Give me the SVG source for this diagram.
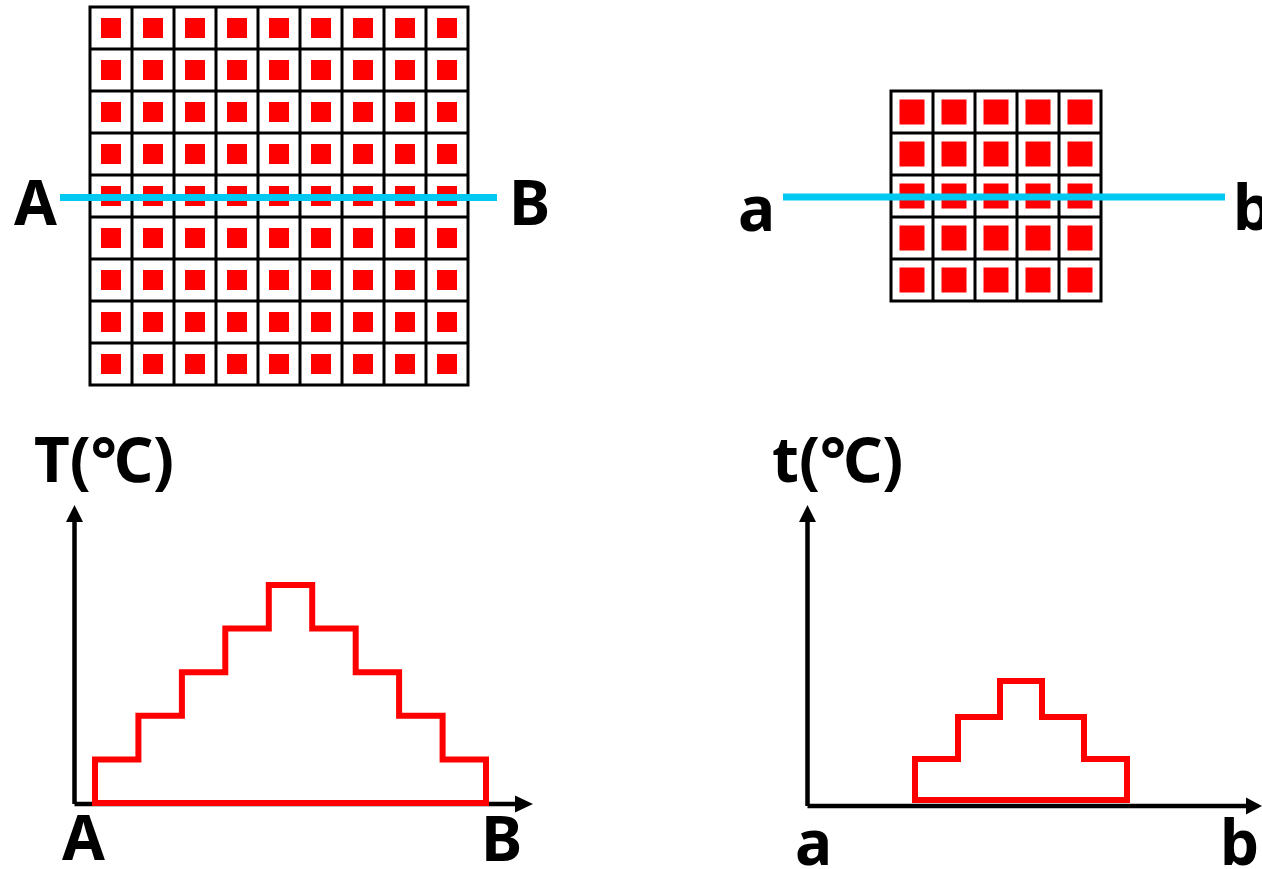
<svg xmlns="http://www.w3.org/2000/svg" xmlns:xlink="http://www.w3.org/1999/xlink" width="1262" height="869" viewBox="0 0 1262 869">
<style>
.sq{fill:#ff0000}
.grid{fill:none;stroke:#000;stroke-width:3}
.cut{stroke:#00c8f0;stroke-width:7;fill:none}
.axis{stroke:#000;stroke-width:4.5;fill:none}
.head{fill:#000}
.stair{fill:none;stroke:#ff0000;stroke-width:6;stroke-linejoin:miter}
.lbl{font-family:"Noto Sans","Open Sans","Noto Sans CJK KR",sans-serif;font-weight:bold;font-size:62px;fill:#000}
</style>
<defs>
<g id="lrow">
<rect class="sq" x="101" y="18" width="20" height="20"/><rect class="sq" x="143" y="18" width="20" height="20"/><rect class="sq" x="185" y="18" width="20" height="20"/><rect class="sq" x="227" y="18" width="20" height="20"/><rect class="sq" x="269" y="18" width="20" height="20"/><rect class="sq" x="311" y="18" width="20" height="20"/><rect class="sq" x="353" y="18" width="20" height="20"/><rect class="sq" x="395" y="18" width="20" height="20"/><rect class="sq" x="437" y="18" width="20" height="20"/>
</g>
<g id="rrow">
<rect class="sq" x="899.5" y="99.5" width="25" height="25"/><rect class="sq" x="941.5" y="99.5" width="25" height="25"/><rect class="sq" x="983.5" y="99.5" width="25" height="25"/><rect class="sq" x="1025.5" y="99.5" width="25" height="25"/><rect class="sq" x="1067.5" y="99.5" width="25" height="25"/>
</g>
</defs>
<g id="left-grid">
<use xlink:href="#lrow" href="#lrow"/>
<use xlink:href="#lrow" href="#lrow" y="42"/>
<use xlink:href="#lrow" href="#lrow" y="84"/>
<use xlink:href="#lrow" href="#lrow" y="126"/>
<use xlink:href="#lrow" href="#lrow" y="168"/>
<use xlink:href="#lrow" href="#lrow" y="210"/>
<use xlink:href="#lrow" href="#lrow" y="252"/>
<use xlink:href="#lrow" href="#lrow" y="294"/>
<use xlink:href="#lrow" href="#lrow" y="336"/>
<path class="grid" d="M90 7H468V385H90Z M132 7V385 M174 7V385 M216 7V385 M258 7V385 M300 7V385 M342 7V385 M384 7V385 M426 7V385 M90 49H468 M90 91H468 M90 133H468 M90 175H468 M90 217H468 M90 259H468 M90 301H468 M90 343H468"/>
</g>
<g id="right-grid">
<use xlink:href="#rrow" href="#rrow"/>
<use xlink:href="#rrow" href="#rrow" y="42"/>
<use xlink:href="#rrow" href="#rrow" y="84"/>
<use xlink:href="#rrow" href="#rrow" y="126"/>
<use xlink:href="#rrow" href="#rrow" y="168"/>
<path class="grid" d="M891 91H1101V301H891Z M933 91V301 M975 91V301 M1017 91V301 M1059 91V301 M891 133H1101 M891 175H1101 M891 217H1101 M891 259H1101"/>
</g>
<g id="connectors">
<line class="cut" x1="60" y1="197.5" x2="497" y2="197.5"/>
<line class="cut" x1="783" y1="197" x2="1225" y2="197"/>
<path class="axis" d="M74.5 804V520 M74.5 804H518"/>
<polygon class="head" points="74.5,505 66,522 83,522"/>
<polygon class="head" points="533,804 515,795.5 515,812.5"/>
<path class="axis" d="M807.5 806V520 M807.5 806H1247"/>
<polygon class="head" points="807.5,505 799,522 816,522"/>
<polygon class="head" points="1262,806 1246,797.5 1246,814.5"/>
</g>
<g id="left-profile">
<polygon class="stair" points="95,803 95,759.4 138.4,759.4 138.4,715.8 181.9,715.8 181.9,672.2 225.3,672.2 225.3,628.6 268.8,628.6 268.8,585 312.2,585 312.2,628.6 355.7,628.6 355.7,672.2 399.1,672.2 399.1,715.8 442.6,715.8 442.6,759.4 486,759.4 486,803"/>
</g>
<g id="right-profile">
<polygon class="stair" points="915,800 915,759 958,759 958,717 1000,717 1000,681 1042,681 1042,717 1084,717 1084,759 1127,759 1127,800"/>
</g>
<g id="labels">
<text class="lbl" x="14" y="225">A</text>
<text class="lbl" x="509" y="225">B</text>
<text class="lbl" x="738" y="231">a</text>
<text class="lbl" x="1233" y="230">b</text>
<text class="lbl" x="34" y="482">T(℃)</text>
<text class="lbl" x="772" y="482">t(℃)</text>
<text class="lbl" x="62" y="860">A</text>
<text class="lbl" x="481" y="861">B</text>
<text class="lbl" x="795" y="865">a</text>
<text class="lbl" x="1220" y="865">b</text>
</g>
</svg>
